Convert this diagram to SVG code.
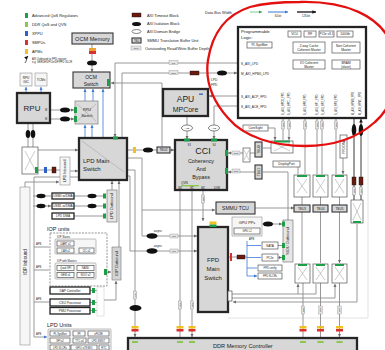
<svg xmlns="http://www.w3.org/2000/svg" width="385" height="350" viewBox="0 0 385 350">
<defs>
<marker id="a" viewBox="0 0 6 6" refX="6" refY="3" markerWidth="3.2" markerHeight="3.2" markerUnits="userSpaceOnUse" orient="auto"><path d="M0,0L6,3L0,6z" fill="#6a6a6a"/></marker>
<marker id="ab" viewBox="0 0 6 6" refX="6" refY="3" markerWidth="3.2" markerHeight="3.2" markerUnits="userSpaceOnUse" orient="auto"><path d="M0,0L6,3L0,6z" fill="#3b78d4"/></marker>
<marker id="ak" viewBox="0 0 6 6" refX="6" refY="3" markerWidth="3.6" markerHeight="3.6" markerUnits="userSpaceOnUse" orient="auto"><path d="M0,0L6,3L0,6z" fill="#111"/></marker>
<marker id="ag" viewBox="0 0 6 6" refX="6" refY="3" markerWidth="3.2" markerHeight="3.2" markerUnits="userSpaceOnUse" orient="auto"><path d="M0,0L6,3L0,6z" fill="#2aa24a"/></marker>
</defs>
<style>
text{font-family:"Liberation Sans",Arial,sans-serif;fill:#222}
.c{text-anchor:middle}
.g{fill:#d7d7d7;stroke:#333;stroke-width:1.1}
.gk{fill:#d7d7d7;stroke:#262626;stroke-width:2.3}
.w{fill:#fff;stroke:#555;stroke-width:.7}
.wl{fill:#f6f6f6;stroke:#888;stroke-width:.55}
.wk{fill:#fff;stroke:#222;stroke-width:1.3}
.ln{fill:none;stroke:#8c8c8c;stroke-width:.9}
.lb{fill:none;stroke:#3b78d4;stroke-width:.8}
.lk{fill:none;stroke:#222;stroke-width:.9}
.lf{fill:none;stroke:#dcdcdc;stroke-width:.8}
.x{fill:none;stroke:#a8a8a8;stroke-width:.6}
.gr{fill:#1f9e4a}
.lg{fill:#8cc850}
.bl{fill:#2d63c8}
.rd{fill:#d93030}
.yl{fill:#f0c020}
.to{fill:#6b1a10;stroke:#111;stroke-width:.4}
.iso{fill:#111}
.db{fill:#fff;stroke:#333;stroke-width:.6}
.ob{fill:#e4e4e4;stroke:#777;stroke-width:.3}
.obt{font-size:2.4px;text-anchor:middle}
.t2{font-size:2.6px}
.t3{font-size:3.2px}
.t4{font-size:3.9px}
.t5{font-size:5px}
.or{fill:#e08a20}
</style>
<rect width="385" height="350" fill="#fff"/>

<!-- faint domain boundaries -->
<g id="boundaries">
<path class="lf" d="M368,125V318H228"/>
</g>

<!-- legends -->
<g id="legend-colors">
<rect class="gr" x="25" y="13" width="3" height="5"/><text class="t4" x="32" y="17">Advanced QoS Regulators</text>
<rect class="lg" x="25" y="22" width="3" height="5"/><text class="t4" x="32" y="26">DDR QoS and QVN</text>
<rect class="bl" x="25" y="31" width="3" height="5"/><text class="t4" x="32" y="35">XPPU</text>
<rect class="rd" x="25" y="40" width="3" height="5"/><text class="t4" x="32" y="44">SMPUs</text>
<rect class="yl" x="25" y="49" width="3" height="5"/><text class="t4" x="32" y="53">APMs</text>
<path d="M25,63C27,61 26,58 28,56" fill="none" stroke="#111" stroke-width=".7" marker-end="url(#ak)"/>
<text class="t2" x="32" y="59.5">AXI Outbound to FPD register</text>
<text class="t2" x="32" y="63">e.g. SERDES/PCIe/DP/FPD SLCR</text>
</g>
<g id="legend-blocks">
<rect class="to" x="132" y="13" width="9" height="4"/><text class="t4" x="147" y="16.5">AXI Timeout Block</text>
<ellipse class="iso" cx="136.5" cy="24" rx="4.5" ry="2"/><text class="t4" x="147" y="25.3">AXI Isolation Block</text>
<ellipse class="db" cx="136.5" cy="31.5" rx="4.5" ry="2"/><text class="t4" x="147" y="33">AXI Domain Bridge</text>
<rect class="g" x="132" y="38" width="9" height="5" stroke-width=".5"/><text class="t2 c" x="136.5" y="41.5">TBU</text><text class="t4" x="147" y="42">SMMU Translation Buffer Unit</text>
<rect class="ob" x="131" y="46" width="10" height="4"/><text class="obt" x="136" y="49">16/8</text><text class="t4" x="145" y="49.5">Outstanding Read/Write Buffer Depth</text>
</g>
<g id="legend-bus">
<text class="t4" x="205" y="13.5">Data Bus Width</text>
<path d="M250,12H262" stroke="#2aa24a" stroke-width=".6" marker-end="url(#ag)"/>
<path d="M268,12H288" stroke="#3b78d4" stroke-width="1" marker-end="url(#ab)"/>
<text class="t2 c" x="278" y="16.5">64-bit</text>
<path d="M297,12H316" stroke="#333" stroke-width="1.5" marker-end="url(#ak)"/>
<text class="t2 c" x="306" y="16.5">128-bit</text>
</g>

<!-- connectors -->
<g id="connectors">
<path class="ln" d="M92,44V72" marker-end="url(#a)"/>
<path class="lb" d="M85,101V89" marker-end="url(#ab)"/>
<path class="lb" d="M93,101V89" marker-end="url(#ab)"/>
<path class="lb" d="M103,138V89" marker-end="url(#ab)"/>
<path class="lb" d="M85,138V125" marker-end="url(#ab)"/>
<path class="lb" d="M92,138V125" marker-end="url(#ab)"/>
<path class="ln" d="M162,147V83H111" marker-end="url(#a)"/>
<path class="ln" d="M238,63H115V137" marker-end="url(#a)"/>
<path class="ln" d="M122,137V73H237" marker-end="url(#a)"/>
<path class="lb" d="M26,93V87" marker-end="url(#ab)"/>
<path class="lb" d="M41,93V87" marker-end="url(#ab)"/>
<path class="ln" d="M50,110H74" marker-end="url(#a)"/>
<path class="ln" d="M50,119H74" marker-end="url(#a)"/>
<path class="ln" d="M28,123V147M33,123V147"/>
<path class="ln" d="M38,150H78" marker-end="url(#a)"/>
<path class="ln" d="M38,170H60"/>
<path class="ln" d="M70,171H78" marker-end="url(#a)"/>
<path class="ln" d="M25,187V182H59" marker-end="url(#a)"/>
<path class="ln" d="M127,150H157M170,150H174" marker-end="url(#a)"/>
<path class="ln" d="M187,116V125M187,131V139" marker-end="url(#a)"/>
<path class="ln" d="M238,106H214V125M214,131V139" marker-end="url(#a)"/>
<path class="ln" d="M238,96H209" marker-end="url(#a)"/>
<path class="ln" d="M271,148H263"/>
<path class="ln" d="M255,153H250M243,153H228" marker-end="url(#a)"/>
<path class="ln" d="M288,220V172H263M255,172H228" marker-end="url(#a)"/>
<path class="ln" d="M268,128H275V140" marker-end="url(#a)"/>
<path class="ln" d="M283,118V140M289,118V140" marker-end="url(#a)"/>
<path class="ln" d="M298,167V174M305,118V174M317,118V174M322,118V174M336,118V174M343,158V174" marker-end="url(#a)"/>
<path class="ln" d="M302,197V205M320.5,197V205M339.5,197V205"/>
<path class="ln" d="M302,212V263M320.5,212V263M339.5,212V263" marker-end="url(#a)"/>
<path class="ln" d="M255,208H294" marker-end="url(#a)"/>
<path class="ln" d="M142,210H215" marker-end="url(#a)"/>
<path class="ln" d="M232,294H316V284M298,294V284" marker-end="url(#a)"/>
<path class="ln" d="M232,298H335V284" marker-end="url(#a)"/>
<path class="ln" d="M357,224V302H233" marker-end="url(#a)"/>
<path class="lk" d="M354,200V119M361,200V119" marker-end="url(#ak)"/>
<path class="ln" d="M303,283V337M320.5,283V337M339.5,283V337" marker-end="url(#a)"/>
<path class="ln" d="M180,190V337M192,190V337" marker-end="url(#a)"/>
<path class="ln" d="M203,190V221" marker-end="url(#a)"/>
<path class="ln" d="M127,170H135V337" marker-end="url(#a)"/>
<path class="ln" d="M127,158H142V236H197" marker-end="url(#a)"/>
<path class="ln" d="M127,176H130V251H197" marker-end="url(#a)"/>
<path class="ln" d="M228,257H247"/>
<path class="lb" d="M247,241V276"/>
<path class="lb" d="M247,245.5H261M247,257.5H261M247,268H257M247,276H257" marker-end="url(#ab)"/>
<path class="ln" d="M262,224H282" marker-end="url(#a)"/>
<path class="ln" d="M278,245.5H282M278,257.5H282" marker-end="url(#a)"/>
<path class="ln" d="M33,196H51M33,206H51" marker-end="url(#a)"/>
<path class="ln" d="M74,196H106M74,206H106M74,216H106" marker-end="url(#a)"/>
<path class="ln" d="M112,190V181" marker-end="url(#a)"/>
<path class="ln" d="M119,247V181" marker-end="url(#a)"/>
<path class="ln" d="M79,177H34V337"/>
<path class="ln" d="M34,247H49M34,270H49M34,302H49M34,337H47" marker-end="url(#ab)"/>
<path class="ln" d="M107,272H111" marker-end="url(#a)"/>
<path class="ln" d="M90,290.5H97M90,302.5H97M90,310.5H97"/>
<rect class="lf" x="97" y="287" width="7" height="29" fill="none" stroke="#aaa"/>
<path class="ln" d="M104,300H116V281" marker-end="url(#a)"/>
<!-- inline blocks on connectors -->
<rect x="89" y="48" width="7" height="3" fill="#f0a030"/><rect class="rd" x="89" y="51" width="7" height="3"/>
<ellipse class="iso" cx="92" cy="63" rx="5" ry="2.5"/>
<ellipse class="iso" cx="65" cy="110" rx="5" ry="2.5"/><ellipse class="iso" cx="65" cy="119" rx="5" ry="2.5"/>
<ellipse class="iso" cx="28" cy="134" rx="2.3" ry="4"/><ellipse class="iso" cx="33" cy="134" rx="2.3" ry="4"/>
<rect class="bl" x="44" y="167" width="3" height="6"/><rect class="to" x="52" y="167" width="4" height="6"/>
<rect class="yl" x="133" y="147" width="3" height="6"/>
<ellipse class="iso" cx="148" cy="150" rx="5" ry="2.5"/>
<ellipse class="db" cx="187" cy="128" rx="5.5" ry="3"/><text class="c" x="187" y="129" font-size="2.2">ACE</text>
<ellipse class="db" cx="214" cy="128" rx="5.5" ry="3"/><text class="c" x="214" y="129" font-size="2.2">ACE</text>
<rect class="to" x="190" y="71" width="9" height="4"/>
<ellipse class="iso" cx="222" cy="73" rx="5" ry="2.5"/>
<rect class="ob" x="169" y="60.5" width="9" height="4"/><text class="obt" x="173.5" y="63.5">8/8</text>
<rect class="ob" x="169" y="70.5" width="9" height="4"/><text class="obt" x="173.5" y="73.5">16/8</text>
<rect class="ob" x="232" y="151" width="8" height="4"/><text class="obt" x="236" y="154">16/8</text>
<rect class="ob" x="232" y="169" width="8" height="4"/><text class="obt" x="236" y="172">16/8</text>
<ellipse class="iso" cx="152" cy="236" rx="5.5" ry="2.7"/><ellipse class="iso" cx="152" cy="251" rx="5.5" ry="2.7"/>
<rect class="ob" x="170" y="234" width="8" height="4"/><text class="obt" x="174" y="237">8/8</text>
<rect class="ob" x="170" y="249" width="8" height="4"/><text class="obt" x="174" y="252">8/8</text>
<ellipse class="iso" cx="135.5" cy="308" rx="6" ry="3"/>
<ellipse class="iso" cx="268" cy="224" rx="5" ry="2.5"/>
<rect class="rd" x="230" y="253" width="2" height="8"/>
<rect class="to" x="237" y="255" width="8" height="4" fill="#2a0a08"/>
<ellipse class="iso" cx="354" cy="130" rx="2.3" ry="6"/><ellipse class="iso" cx="361" cy="130" rx="2.3" ry="6"/>
<rect class="to" x="352" y="177" width="4" height="8"/><rect class="to" x="359" y="177" width="4" height="8"/>
<ellipse class="iso" cx="41" cy="196" rx="4.5" ry="2.2"/><ellipse class="iso" cx="92" cy="196" rx="4.5" ry="2.2"/>
<ellipse class="iso" cx="41" cy="206" rx="4.5" ry="2.2"/><ellipse class="iso" cx="92" cy="206" rx="4.5" ry="2.2"/>
<g id="depth-labels">
<g transform="translate(283,125) rotate(-90)"><rect class="ob" x="-4" y="-1.8" width="8" height="3.6"/><text class="obt" y="0.9">16/8</text></g>
<g transform="translate(289,125) rotate(-90)"><rect class="ob" x="-4" y="-1.8" width="8" height="3.6"/><text class="obt" y="0.9">16/8</text></g>
<g transform="translate(305,125) rotate(-90)"><rect class="ob" x="-4" y="-1.8" width="8" height="3.6"/><text class="obt" y="0.9">16/8</text></g>
<g transform="translate(317,125) rotate(-90)"><rect class="ob" x="-4" y="-1.8" width="8" height="3.6"/><text class="obt" y="0.9">16/8</text></g>
<g transform="translate(322,125) rotate(-90)"><rect class="ob" x="-4" y="-1.8" width="8" height="3.6"/><text class="obt" y="0.9">16/8</text></g>
<g transform="translate(336,125) rotate(-90)"><rect class="ob" x="-4" y="-1.8" width="8" height="3.6"/><text class="obt" y="0.9">16/8</text></g>
<g transform="translate(354,191) rotate(-90)"><rect class="ob" x="-4" y="-1.8" width="8" height="3.6"/><text class="obt" y="0.9">16/8</text></g>
<g transform="translate(361,191) rotate(-90)"><rect class="ob" x="-4" y="-1.8" width="8" height="3.6"/><text class="obt" y="0.9">16/8</text></g>
<g transform="translate(203,199) rotate(-90)"><rect class="ob" x="-4" y="-1.8" width="8" height="3.6"/><text class="obt" y="0.9">16/8</text></g>
<g transform="translate(135,295) rotate(-90)"><rect class="ob" x="-4" y="-1.8" width="8" height="3.6"/><text class="obt" y="0.9">8/8</text></g>
<g transform="translate(180,305) rotate(-90)"><rect class="ob" x="-4" y="-1.8" width="8" height="3.6"/><text class="obt" y="0.9">16/8</text></g>
<g transform="translate(192,305) rotate(-90)"><rect class="ob" x="-4" y="-1.8" width="8" height="3.6"/><text class="obt" y="0.9">16/8</text></g>
<g transform="translate(303,310) rotate(-90)"><rect class="ob" x="-4" y="-1.8" width="8" height="3.6"/><text class="obt" y="0.9">16/8</text></g>
<g transform="translate(320.5,310) rotate(-90)"><rect class="ob" x="-4" y="-1.8" width="8" height="3.6"/><text class="obt" y="0.9">16/8</text></g>
<g transform="translate(339.5,310) rotate(-90)"><rect class="ob" x="-4" y="-1.8" width="8" height="3.6"/><text class="obt" y="0.9">16/8</text></g>
</g>
<g id="ddr-port-markers">
<rect class="yl" x="131.5" y="326" width="7" height="2.5"/><rect class="rd" x="131.5" y="329" width="7" height="2.5"/>
<rect class="yl" x="176.5" y="326" width="7" height="2.5"/><rect class="rd" x="176.5" y="329" width="7" height="2.5"/>
<rect class="yl" x="188.5" y="326" width="7" height="2.5"/><rect class="rd" x="188.5" y="329" width="7" height="2.5"/>
<rect class="yl" x="299.5" y="326" width="7" height="2.5"/><rect class="rd" x="299.5" y="329" width="7" height="2.5"/>
<rect class="yl" x="317" y="326" width="7" height="2.5"/><rect class="rd" x="317" y="329" width="7" height="2.5"/>
<rect class="yl" x="336" y="326" width="7" height="2.5"/><rect class="rd" x="336" y="329" width="7" height="2.5"/>
</g>
<text class="t3 c" x="158" y="232" fill="#e08a20">async</text>
<text class="t3 c" x="158" y="247" fill="#e08a20">async</text>
<text class="t3" x="211" y="81" fill="#e08a20">LPD</text>
<text class="t3" x="211" y="86" fill="#e08a20">FPD</text>
<text class="t2" x="36" y="245">APB</text>
<text class="t2" x="36" y="268">APB</text>
<text class="t2" x="36" y="300">APB</text>
<text class="t2" x="36" y="335">APB</text>
<text class="t2" x="249" y="240">APB</text>
</g>

<!-- LPD nodes -->
<g id="ocm-memory"><rect class="g" x="72" y="33" width="41" height="11"/><text class="c" x="92.5" y="40.8" font-size="5.6">OCM Memory</text></g>
<g id="ocm-switch"><rect class="g" x="73" y="72" width="37" height="16"/><text class="t5 c" x="91" y="79">OCM</text><text class="t5 c" x="91" y="85.5">Switch</text><rect class="gr" x="107" y="79" width="3" height="7"/></g>
<g id="rpu-gic"><rect class="wl" x="20" y="73" width="12" height="13"/><text class="t3 c" x="26" y="78.5">RPU</text><text class="t3 c" x="26" y="82.5">GIC</text></g>
<g id="tcms"><rect class="wl" x="35" y="73" width="12" height="13"/><text class="t3 c" x="41" y="80.5">TCMs</text></g>
<g id="rpu"><rect class="gk" x="17" y="93" width="33" height="30"/><text class="c" x="32" y="111" font-size="8">RPU</text><text class="t2" x="45" y="111">M</text><text class="t2" x="45" y="120">M</text></g>
<g id="rpu-switch"><rect x="75" y="101" width="23" height="23" fill="#dcdcdc" stroke="#888" stroke-width=".8"/><path class="x" d="M77,104L96,121M77,121L96,104"/><text class="t4 c" x="87" y="111">RPU</text><text class="t4 c" x="87" y="116.5">Switch</text><rect class="gr" x="74" y="107" width="3" height="6"/><rect class="gr" x="74" y="116" width="3" height="6"/></g>
<g id="lpd-xbar"><rect class="w" x="22" y="147" width="16" height="27"/><path class="x" d="M25,151Q30,160 35,170M25,170Q30,160 35,151"/><rect class="gr" x="35" y="167" width="3" height="6"/></g>
<g id="lpd-inbound"><rect class="wl" x="60" y="157" width="10" height="28"/><text class="t4 c" transform="translate(66.3,171) rotate(-90)">LPD Inbound</text></g>
<g id="lpd-main-switch"><rect class="gk" x="79" y="138" width="48" height="42"/><path class="x" d="M82,141L124,172"/><text x="83" y="163" font-size="6">LPD Main</text><text x="83" y="171" font-size="6">Switch</text><rect class="gr" x="113" y="136.5" width="5" height="3"/></g>
<g id="usb0"><rect class="wk" x="52" y="193" width="22" height="6" stroke-width=".7"/><text class="t3 c" x="63" y="197.2">USB0 w/DMA</text><rect class="gr" x="103" y="193.5" width="3" height="5"/></g>
<g id="usb1"><rect class="wk" x="52" y="203" width="22" height="6" stroke-width=".7"/><text class="t3 c" x="63" y="207.2">USB1 w/DMA</text><rect class="gr" x="103" y="203.5" width="3" height="5"/></g>
<g id="lpd-dma"><rect class="wk" x="52" y="213" width="22" height="6" stroke-width=".7"/><text class="t3 c" x="63" y="217.2">LPD DMA</text><rect class="gr" x="103" y="213.5" width="3" height="5"/></g>
<g id="lpd-outbound"><rect x="107" y="190" width="10" height="32" fill="#e4e4e4" stroke="#666" stroke-width=".6"/><text class="t4 c" transform="translate(113.3,206) rotate(-90)">LPD Outbound</text></g>
<g id="iop-inbound"><rect class="wl" x="20" y="187" width="10" height="158"/><text class="c" font-size="4.6" transform="translate(26.6,262) rotate(-90)">IOP Inbound</text></g>
<g id="iop-units">
<text x="47" y="231" font-size="5.5">IOP units</text>
<rect x="50" y="233" width="57" height="53" fill="none" stroke="#666" stroke-width=".7" stroke-dasharray="2,1.2"/>
<text class="t2" x="57" y="238">IOP Slaves</text>
<rect class="wl" x="55" y="239" width="41" height="15" rx="1"/>
<rect class="w" x="57" y="241" width="17" height="5"/><text class="t2 c" x="65.5" y="244.6">UART x2</text>
<rect class="w" x="57" y="248" width="17" height="5"/><text class="t2 c" x="65.5" y="251.6">CAN x2</text>
<rect class="w" x="79" y="248" width="15" height="5"/><text class="t2 c" x="86.5" y="251.6">I2C x2</text>
<text class="t2" x="57" y="262">IOP with Masters</text>
<rect class="wl" x="55" y="263" width="41" height="16" rx="1"/>
<rect class="w" x="57" y="265.5" width="17" height="5"/><text class="t2 c" x="65.5" y="269.1">Quad SPI</text>
<rect class="w" x="77" y="265.5" width="17" height="5"/><text class="t2 c" x="85.5" y="269.1">NAND</text>
<rect class="w" x="57" y="272.5" width="17" height="5"/><text class="t2 c" x="65.5" y="276.1">GEM x4</text>
<rect class="w" x="77" y="272.5" width="17" height="5"/><text class="t2 c" x="85.5" y="276.1">SDIO x2</text>
<rect class="gr" x="104" y="269" width="3" height="6"/>
</g>
<g id="iop-outbound"><rect x="112" y="247" width="9" height="33" fill="#d4d4d4" stroke="#777" stroke-width=".6"/><text class="t4 c" transform="translate(118,263.5) rotate(-90)">IOP Outbound</text></g>
<g id="dap"><rect class="wk" x="50" y="287" width="40" height="7"/><text class="t3 c" x="70" y="291.8">DAP Controller</text><rect class="gr" x="92" y="288" width="3" height="5"/></g>
<g id="csu"><rect class="wk" x="50" y="299" width="40" height="7"/><text class="t3 c" x="70" y="303.8">CSU Processor</text><rect class="gr" x="92" y="300" width="3" height="5"/></g>
<g id="pmu"><rect class="wk" x="50" y="307.5" width="40" height="6.5"/><text class="t3 c" x="70" y="312">PMU Processor</text><rect class="gr" x="92" y="308" width="3" height="5"/></g>
<g id="lpd-units">
<text x="47" y="327" font-size="5.5">LPD Units</text>
<rect class="wl" x="48" y="329" width="63" height="22" rx="1"/>
<rect class="w" x="50" y="331" width="20" height="5"/><text class="t2 c" x="60" y="334.6">PL SysMon</text>
<rect class="w" x="73" y="331" width="12" height="5"/><text class="t2 c" x="79" y="334.6">IPI</text>
<rect class="w" x="88" y="331" width="21" height="5"/><text class="t2 c" x="98.5" y="334.6">eFUSE</text>
<rect class="w" x="50" y="338" width="20" height="5"/><text class="t2 c" x="60" y="341.6">SPI x2</text>
<rect class="w" x="73" y="338" width="13" height="5"/><text class="t2 c" x="79.5" y="341.6">TTC x4</text>
<rect class="w" x="88" y="338" width="21" height="5"/><text class="t2 c" x="98.5" y="341.6">LPD SWDT</text>
<rect class="w" x="50" y="345" width="20" height="5"/><text class="t2 c" x="60" y="348.6">LPD SLCRs</text>
<rect class="w" x="71" y="345" width="26" height="5"/><text class="t2 c" x="84" y="348.6">GPIO x78 MIO</text>
<rect class="w" x="99" y="345" width="10" height="5"/><text class="t2 c" x="104" y="348.6">RTC</text>
</g>

<!-- FPD nodes -->
<g id="apu"><rect class="gk" x="163" y="89" width="45" height="27"/><text class="c" x="185.5" y="102" font-size="8.5">APU</text><text class="c" x="185.5" y="112" font-size="7">MPCore</text><rect class="bl" x="199" y="93.5" width="4" height="1.3"/></g>
<g id="tbu2"><rect class="g" x="157" y="147" width="13" height="6" stroke-width=".6"/><text class="t3 c" x="163.5" y="151.2">TBU2</text></g>
<g id="cci">
<rect class="gk" x="175" y="140" width="52" height="50"/>
<text class="c" x="203" y="154" font-size="9">CCI</text>
<text class="c" x="201" y="163" font-size="5.4">Coherency</text>
<text class="c" x="201" y="171" font-size="5.4">And</text>
<text class="c" x="201" y="179" font-size="5.4">Bypass</text>
<text class="t3" x="181" y="184" fill="#2d63c8">QVN</text>
<rect class="lg" x="181" y="185" width="18" height="1.4"/>
<text class="t2 c" x="180" y="189">M0</text><text class="t2 c" x="192" y="189">M1</text><text class="t2 c" x="203" y="189">M2</text><text class="t2 c" x="217" y="189">DVM</text>
<text class="t2 c" x="189" y="146">S3</text><text class="t2 c" x="214" y="146">S4</text>
<rect class="gr" x="184" y="138.5" width="6" height="3"/><rect class="gr" x="211" y="138.5" width="6" height="3"/>
<rect class="gr" x="225" y="150" width="3" height="6"/><rect class="gr" x="225" y="168" width="3" height="6"/>
</g>
<g id="smmu-tcu"><rect class="g" x="216" y="202" width="39" height="12"/><text class="t5 c" x="235.5" y="209.8">SMMU TCU</text></g>
<g id="fpd-main-switch">
<rect class="gk" x="198" y="227" width="30" height="85" stroke-width="2"/>
<text class="c" x="213" y="262" font-size="6">FPD</text>
<text class="c" x="213" y="271" font-size="6">Main</text>
<text class="c" x="213" y="280" font-size="6">Switch</text>
<rect class="yl" x="209.5" y="221.5" width="7" height="3"/><rect class="gr" x="209.5" y="224.5" width="7" height="2.5"/>
<rect class="w" x="228" y="291" width="4" height="10"/>
</g>
<g id="gpu-pps"><rect class="wl" x="232" y="217" width="30" height="19"/><text class="t4 c" x="247" y="224">GPU PPs</text><rect class="w" x="234" y="228" width="26" height="6"/><text class="t2 c" x="247" y="232">GPU L2</text></g>
<g id="siou-outbound"><rect x="283" y="220" width="10" height="42" fill="#e6e6e6" stroke="#666" stroke-width=".6"/><text class="t4 c" transform="translate(289.3,241) rotate(-90)">SIOU Outbound</text><rect class="gr" x="282" y="221.5" width="3" height="5"/><rect class="gr" x="282" y="243" width="3" height="5"/><rect class="gr" x="282" y="255" width="3" height="5"/></g>
<g id="sata"><rect class="w" x="262" y="242" width="16" height="7"/><text class="t3 c" x="270" y="246.7">SATA</text></g>
<g id="pcie"><rect class="w" x="262" y="254" width="16" height="7"/><text class="t3 c" x="270" y="258.7">PCIe</text></g>
<g id="fpd-config"><rect class="w" x="258" y="265" width="24" height="6"/><text class="t2 c" x="270" y="269">FPD config</text></g>
<g id="fpd-slcrs"><rect class="w" x="258" y="273" width="24" height="6"/><text class="t2 c" x="270" y="277">FPD SLCRs</text></g>
<g id="coresight"><rect class="w" x="243" y="125" width="25" height="6"/><text class="t3 c" x="255.5" y="129.2">CoreSight</text></g>
<g id="cci-xbar"><rect class="w" x="243" y="148" width="7" height="14"/><path class="x" d="M244,150L249,160M244,160L249,150"/></g>
<g id="tbu0"><rect class="g" x="255" y="142" width="7" height="15" stroke-width=".6"/><text class="t3 c" transform="translate(259.6,149.5) rotate(-90)">TBU0</text></g>
<g id="tbu1"><rect class="g" x="255" y="165" width="7" height="14" stroke-width=".6"/><text class="t3 c" transform="translate(259.6,172) rotate(-90)">TBU1</text></g>
<g id="hpc-switch"><rect class="w" x="271" y="141" width="22" height="12"/><path class="x" d="M274,143Q282,147 290,151M274,151Q282,147 290,143"/><rect class="gr" x="274" y="140.5" width="16" height="2"/></g>
<g id="displayport"><rect class="w" x="273" y="161" width="27" height="6"/><text class="t3 c" x="286.5" y="165.2">DisplayPort</text></g>
<g id="fpd-dma"><rect class="w" x="340" y="135" width="7" height="23"/><text class="t3 c" transform="translate(344.6,146.5) rotate(-90)">FPD DMA</text></g>
<g id="hp-switch-1"><rect class="w" x="294" y="175" width="16" height="22"/><path class="x" d="M297,179Q302,186 307,193M297,193Q302,186 307,179"/><rect class="gr" x="297" y="175" width="10" height="2"/></g>
<g id="hp-switch-2"><rect class="w" x="313" y="175" width="15" height="22"/><path class="x" d="M316,179Q320.5,186 325,193M316,193Q320.5,186 325,179"/><rect class="gr" x="316" y="175" width="9" height="2"/></g>
<g id="hp-switch-3"><rect class="w" x="332" y="175" width="15" height="22"/><path class="x" d="M335,179Q339.5,186 344,193M335,193Q339.5,186 344,179"/><rect class="gr" x="335" y="175" width="9" height="2"/></g>
<g id="tbu3"><rect class="g" x="294" y="205" width="16" height="7" stroke-width=".6"/><text class="t3 c" x="302" y="209.8">TBU3</text></g>
<g id="tbu4"><rect class="g" x="313" y="205" width="15" height="7" stroke-width=".6"/><text class="t3 c" x="320.5" y="209.8">TBU4</text></g>
<g id="tbu5"><rect class="g" x="332" y="205" width="15" height="7" stroke-width=".6"/><text class="t3 c" x="339.5" y="209.8">TBU5</text></g>
<g id="ddr-switch-1"><rect class="w" x="295" y="264" width="15" height="19"/><path class="x" d="M298,267Q302.5,273.5 307,280M298,280Q302.5,273.5 307,267"/><rect class="gr" x="298" y="264" width="9" height="2"/></g>
<g id="ddr-switch-2"><rect class="w" x="313" y="264" width="15" height="19"/><path class="x" d="M316,267Q320.5,273.5 325,280M316,280Q320.5,273.5 325,267"/><rect class="gr" x="316" y="264" width="9" height="2"/></g>
<g id="ddr-switch-3"><rect class="w" x="332" y="264" width="15" height="19"/><path class="x" d="M335,267Q339.5,273.5 344,280M335,280Q339.5,273.5 344,267"/><rect class="gr" x="335" y="264" width="9" height="2"/></g>
<g id="hpm-switch"><rect class="w" x="351" y="200" width="12" height="23"/><path class="x" d="M353,203Q357,211.5 361,220M353,220Q357,211.5 361,203"/><rect class="gr" x="353" y="221" width="8" height="2"/></g>

<g id="ddr-controller">
<rect class="gk" x="128" y="338" width="229" height="16"/>
<text x="213" y="348" font-size="5.6">DDR Memory Controller</text>
<rect class="lg" x="132" y="341" width="6" height="2"/><rect class="lg" x="177" y="341" width="6" height="2"/><rect class="lg" x="189" y="341" width="6" height="2"/>
<rect class="lg" x="300" y="341" width="6" height="2"/><rect class="lg" x="317.5" y="341" width="6" height="2"/><rect class="lg" x="336.5" y="341" width="6" height="2"/>
</g>

<!-- Programmable logic -->
<g id="pl">
<rect x="238" y="27" width="128" height="91" fill="#fff" stroke="#222" stroke-width="2.3"/>
<text x="241" y="33" font-size="4.4">Programmable</text>
<text x="241" y="38.5" font-size="4.4">Logic:</text>
<rect class="w" x="288" y="31" width="13" height="6"/><text class="t3 c" x="294.5" y="35.2">VCU</text>
<rect class="w" x="304" y="31" width="12" height="6"/><text class="t3 c" x="310" y="35.2">RF</text>
<rect class="w" x="319" y="31" width="15" height="6"/><text class="t3 c" x="326.5" y="35.2">PCIe v3.1</text>
<rect class="w" x="337" y="31" width="16" height="6"/><text class="t3 c" x="345" y="35.2">100Gb</text>
<rect class="w" x="247" y="42" width="25" height="6"/><text class="t3 c" x="259.5" y="46.2">PL SysMon</text>
<rect class="w" x="293" y="42" width="32" height="11"/><text class="t3 c" x="309" y="46.5">2-way Cache</text><text class="t3 c" x="309" y="50.8">Coherent Master</text>
<rect class="w" x="332" y="42" width="28" height="11"/><text class="t3 c" x="346" y="46.5">Non Coherent</text><text class="t3 c" x="346" y="50.8">Master</text>
<rect class="w" x="293" y="60" width="32" height="9"/><text class="t3 c" x="309" y="63.8">I/O Coherent</text><text class="t3 c" x="309" y="67.6">Master</text>
<rect class="w" x="332" y="60" width="28" height="9"/><text class="t3 c" x="346" y="63.8">BRAM</text><text class="t3 c" x="346" y="67.6">(slave)</text>
<text class="t3" x="241" y="64.5">S_AXI_LPD</text>
<text class="t3" x="241" y="74.5">M_AXI_HPM0_LPD</text>
<text class="t3" x="241" y="97.5">S_AXI_ACP_FPD</text>
<text class="t3" x="241" y="107.5">S_AXI_ACE_FPD</text>
<text class="t2" transform="translate(284,115) rotate(-90)">S_AXI_HPC0_FPD</text>
<text class="t2" transform="translate(290,115) rotate(-90)">S_AXI_HPC1_FPD</text>
<text class="t2" transform="translate(306,115) rotate(-90)">S_AXI_HP0_FPD</text>
<text class="t2" transform="translate(318,115) rotate(-90)">S_AXI_HP1_FPD</text>
<text class="t2" transform="translate(323.5,115) rotate(-90)">S_AXI_HP2_FPD</text>
<text class="t2" transform="translate(337,115) rotate(-90)">S_AXI_HP3_FPD</text>
<text class="t2" transform="translate(353.5,115) rotate(-90)">M_AXI_HPM0_FPD</text>
<text class="t2" transform="translate(361,115) rotate(-90)">M_AXI_HPM1_FPD</text>
</g>

<g id="highlight">
<path d="M300,2C345,1 380,15 392,45C400,75 395,105 375,122C355,140 330,146 305,146C275,146 245,138 228,118C212,100 205,80 208,60C212,35 225,15 250,7C265,3 285,2 300,2Z" fill="none" stroke="#e41010" stroke-width="2.3"/>
</g>
</svg>
